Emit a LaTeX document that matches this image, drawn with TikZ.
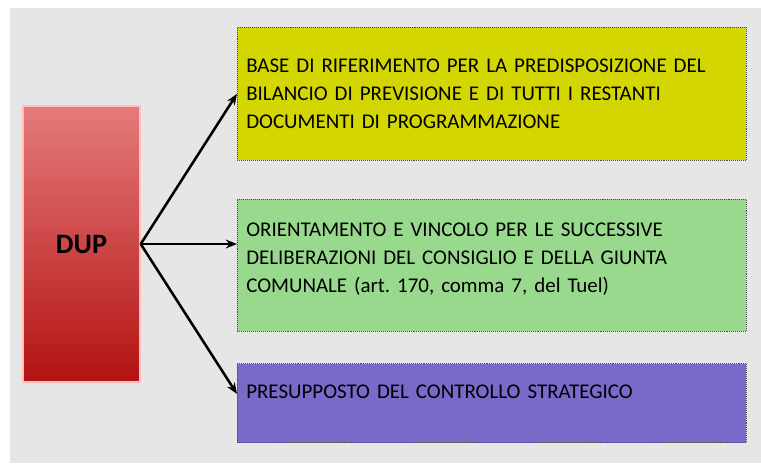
\documentclass[tikz,border=0pt]{standalone}
\usepackage{fontspec}
\setmainfont{Carlito}
\usepackage{xcolor}
\usetikzlibrary{arrows.meta, positioning, calc}
\definecolor{bgray}{HTML}{E6E6E6}
\definecolor{yel}{HTML}{D3D600}
\definecolor{grn}{HTML}{99D98E}
\definecolor{pur}{HTML}{7B69C9}
\definecolor{redtop}{HTML}{E57B7B}
\definecolor{redbot}{HTML}{B31212}
\frenchspacing

\begin{document}
\begin{tikzpicture}[
  x=0.025cm, y=-0.025cm,
  font=\fontsize{14.9}{20}\selectfont,
  box/.style={draw=black!70, densely dotted, align=left, text width=12.275cm,
    minimum width=12.725cm, inner xsep=0.225cm},
  arr/.style={-{Stealth[length=2.8mm,width=2.2mm]}, line width=1.8pt}
]
\useasboundingbox (0,0) rectangle (761,463);
\fill[bgray] (10,8) rectangle (761,463);
\node[box, fill=yel, minimum height=3.325cm, anchor=north west] (b1) at (237,27) {BASE DI RIFERIMENTO PER LA PREDISPOSIZIONE DEL\\
BILANCIO DI PREVISIONE E DI TUTTI I RESTANTI\\
DOCUMENTI DI PROGRAMMAZIONE};
\node[box, fill=grn, minimum height=3.3cm, below=0.95cm of b1.south west, anchor=north west] (b2) {ORIENTAMENTO E VINCOLO PER LE SUCCESSIVE\\
DELIBERAZIONI DEL CONSIGLIO E DELLA GIUNTA\\
COMUNALE (art. 170, comma 7, del Tuel)\\[-10pt]\mbox{}};
\node[box, fill=pur, minimum height=1.975cm, below=0.8cm of b2.south west, anchor=north west] (b3) {PRESUPPOSTO DEL CONTROLLO STRATEGICO\\[-4pt]\mbox{}};
\node[draw=red!25, line width=1pt, top color=redtop, bottom color=redbot,
  minimum width=2.925cm, minimum height=6.9cm, font=\fontsize{20}{24}\selectfont\bfseries] (dup) at (81.5,244) {DUP};
\draw[arr] (dup.east) -- (b1.west);
\draw[arr] (dup.east) -- (dup.east -| b2.west);
\draw[arr] (dup.east) -- ([yshift=0.225cm]b3.west);
\end{tikzpicture}
\end{document}
